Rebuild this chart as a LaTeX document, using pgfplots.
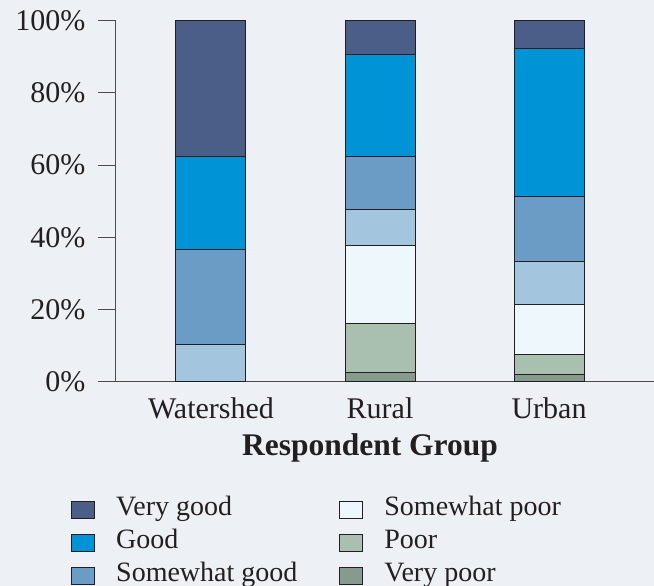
\documentclass[border=0pt]{standalone}
\usepackage{pgfplots}
\pgfplotsset{compat=1.18}
\usepackage{pgfplotstable}
\usepackage{fontspec}
\setmainfont{Liberation Serif}
\definecolor{bgc}{RGB}{237,241,245}
\definecolor{cvg}{RGB}{74,94,136}
\definecolor{cg}{RGB}{0,148,214}
\definecolor{csg}{RGB}{106,156,198}
\definecolor{cn}{RGB}{163,197,222}
\definecolor{csp}{RGB}{238,247,251}
\definecolor{cp}{RGB}{169,191,176}
\definecolor{cvp}{RGB}{134,154,142}
\definecolor{ink}{RGB}{35,31,32}

\pgfplotstableread{
x vp p sp n sg g vg
0 0 0 0 10.4 26.1 26.0 37.5
1 2.5 13.6 21.6 9.9 14.9 28.1 9.4
2 2.0 5.5 13.9 12.0 18.0 41.0 7.6
}\data

\pgfplotsset{sqleg/.style={legend image code/.code={\draw[##1, draw=ink, line width=1pt] (0pt,-8.5pt) rectangle (23pt,8.5pt);}}}

\begin{document}
\begin{tikzpicture}
\path[use as bounding box, fill=bgc] (0,0) rectangle (654pt,-586pt);
\begin{axis}[
 at={(116pt,-381.7pt)}, anchor=south west,
 scale only axis, width=538pt, height=361pt,
 ybar stacked, bar width=70pt,
 xmin=-0.562, xmax=2.621, ymin=0, ymax=100,
 axis x line=bottom, axis y line=left,
 axis line style={-, draw=black!70, line width=1pt},
 xtick={0,1,2}, xticklabels={Watershed,Rural,Urban},
 ytick={0,20,40,60,80,100},
 yticklabels={\textrm{0\%},\textrm{20\%},\textrm{40\%},\textrm{60\%},\textrm{80\%},\textrm{100\%}},
 x tick style={draw=none},
 y tick style={draw=black!70, line width=1pt},
 tick align=outside, major tick length=18pt,
 every tick label/.append style={font=\fontsize{30}{36}\selectfont, text=ink},
 yticklabel style={xshift=-9pt},
 xticklabel style={yshift=6pt},
 xlabel={\textbf{Respondent Group}},
 xlabel style={font=\fontsize{31.5}{38}\selectfont, text=ink, yshift=-8pt, xshift=-15pt},
 legend columns=2,
 legend cell align=left,
 legend style={at={(-0.0892,-0.3025)}, anchor=north west, draw=none, fill=none,
   font=\fontsize{28}{34}\selectfont, text=ink,
   nodes={inner sep=0pt, text height=22pt, text depth=11pt},
   row sep=0pt,
   /tikz/every odd column/.append style={column sep=21pt},
   /tikz/every even column/.append style={column sep=42pt}},
]
\addplot[fill=cvp, draw=ink, line width=1pt, forget plot] table[x=x,y=vp]{\data};
\addplot[fill=cp, draw=ink, line width=1pt, forget plot] table[x=x,y=p]{\data};
\addplot[fill=csp, draw=ink, line width=1pt, forget plot] table[x=x,y=sp]{\data};
\addplot[fill=cn, draw=ink, line width=1pt, forget plot] table[x=x,y=n]{\data};
\addplot[fill=csg, draw=ink, line width=1pt, forget plot] table[x=x,y=sg]{\data};
\addplot[fill=cg, draw=ink, line width=1pt, forget plot] table[x=x,y=g]{\data};
\addplot[fill=cvg, draw=ink, line width=1pt, forget plot] table[x=x,y=vg]{\data};
\addlegendimage{sqleg, fill=cvg}
\addlegendentry{Very good}
\addlegendimage{sqleg, fill=csp}
\addlegendentry{Somewhat poor}
\addlegendimage{sqleg, fill=cg}
\addlegendentry{Good}
\addlegendimage{sqleg, fill=cp}
\addlegendentry{Poor}
\addlegendimage{sqleg, fill=csg}
\addlegendentry{Somewhat good}
\addlegendimage{sqleg, fill=cvp}
\addlegendentry{Very poor}
\end{axis}
\end{tikzpicture}
\end{document}
